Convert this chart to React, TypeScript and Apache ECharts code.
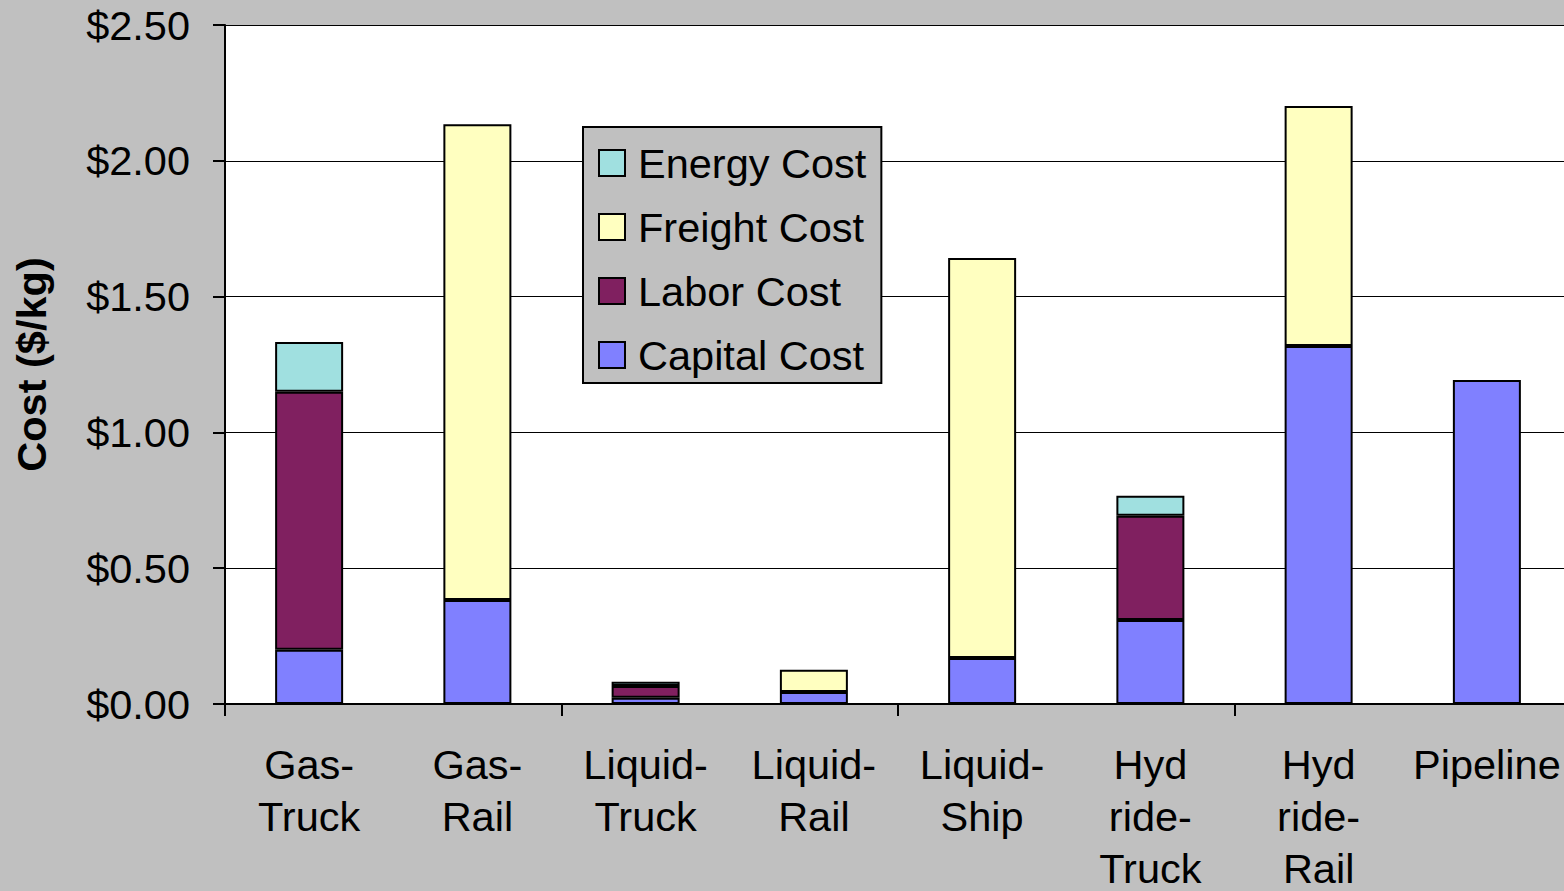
import React, { useEffect, useRef } from "react";
import * as echarts from "echarts";

const categories = [
  "Gas-\nTruck",
  "Gas-\nRail",
  "Liquid-\nTruck",
  "Liquid-\nRail",
  "Liquid-\nShip",
  "Hyd\nride-\nTruck",
  "Hyd\nride-\nRail",
  "Pipeline",
];

// Cost components in $/kg (null where a component does not apply)
const capitalCost = [0.2, 0.383, 0.023, 0.044, 0.169, 0.309, 1.318, 1.193];
const laborCost = [0.95, null, 0.043, null, null, 0.384, null, null];
const freightCost = [null, 1.752, null, 0.082, 1.473, null, 0.884, null];
const energyCost = [0.183, null, 0.016, null, null, 0.074, null, null];

const yTicks = { min: 0, max: 2.5, interval: 0.5 };

const FONT = "'Liberation Sans', Arial, sans-serif";
const FS = 41.5;

export default function App() {
  const ref = useRef<HTMLDivElement>(null);

  useEffect(() => {
    if (!ref.current) return;
    const chart = echarts.init(ref.current, null, { renderer: "svg" });

    const mk = (name: string, data: (number | null)[], color: string) => ({
      name,
      type: "bar",
      stack: "cost",
      barWidth: 68,
      data,
      itemStyle: { color, borderColor: "#000", borderWidth: 2 },
    });

    chart.setOption({
      animation: false,
      backgroundColor: "#c0c0c0",
      textStyle: { fontFamily: FONT },
      grid: {
        left: 225,
        top: 25,
        right: -7,
        bottom: 187,
        containLabel: false,
        outerBoundsMode: "none",
        show: true,
        backgroundColor: "#ffffff",
        borderWidth: 0,
      },
      legend: {
        data: ["Energy Cost", "Freight Cost", "Labor Cost", "Capital Cost"],
        orient: "vertical",
        left: 583,
        top: 127,
        padding: [15, 15, 7, 15],
        itemWidth: 26,
        itemHeight: 26,
        itemGap: 22,
        icon: "rect",
        backgroundColor: "#c0c0c0",
        borderColor: "#000",
        borderWidth: 2,
        itemStyle: { borderColor: "#000", borderWidth: 2 },
        textStyle: {
          fontFamily: FONT,
          fontSize: FS,
          lineHeight: 40,
          color: "#000",
          padding: [0, 0, 0, 8],
        },
      },
      xAxis: {
        type: "category",
        data: categories,
        boundaryGap: true,
        axisLine: { show: true, lineStyle: { color: "#000", width: 2 } },
        axisTick: {
          show: true,
          interval: 1,
          length: 12,
          lineStyle: { color: "#000", width: 2 },
        },
        axisLabel: {
          interval: () => true,
          margin: 34,
          fontFamily: FONT,
          fontSize: FS,
          lineHeight: 52,
          color: "#000",
        },
        splitLine: { show: false },
      },
      yAxis: {
        type: "value",
        min: yTicks.min,
        max: yTicks.max,
        interval: yTicks.interval,
        name: "Cost ($/kg)",
        nameLocation: "middle",
        nameGap: 173,
        nameTextStyle: {
          fontFamily: FONT,
          fontSize: FS,
          fontWeight: "bold",
          color: "#000",
        },
        axisLine: { show: true, lineStyle: { color: "#000", width: 2 } },
        axisTick: { show: true, length: 12, lineStyle: { color: "#000", width: 2 } },
        axisLabel: {
          margin: 35,
          fontFamily: FONT,
          fontSize: FS,
          color: "#000",
          formatter: (v: number) => `$${v.toFixed(2)}`,
        },
        splitLine: { show: true, lineStyle: { color: "#000", width: 1 } },
      },
      series: [
        mk("Capital Cost", capitalCost, "#8080ff"),
        mk("Labor Cost", laborCost, "#802060"),
        mk("Freight Cost", freightCost, "#ffffc0"),
        mk("Energy Cost", energyCost, "#a0e0e0"),
      ],
    });

    return () => chart.dispose();
  }, []);

  return (
    <div
      ref={ref}
      style={{ position: "fixed", left: 0, top: 0, width: 1564, height: 891 }}
    />
  );
}
